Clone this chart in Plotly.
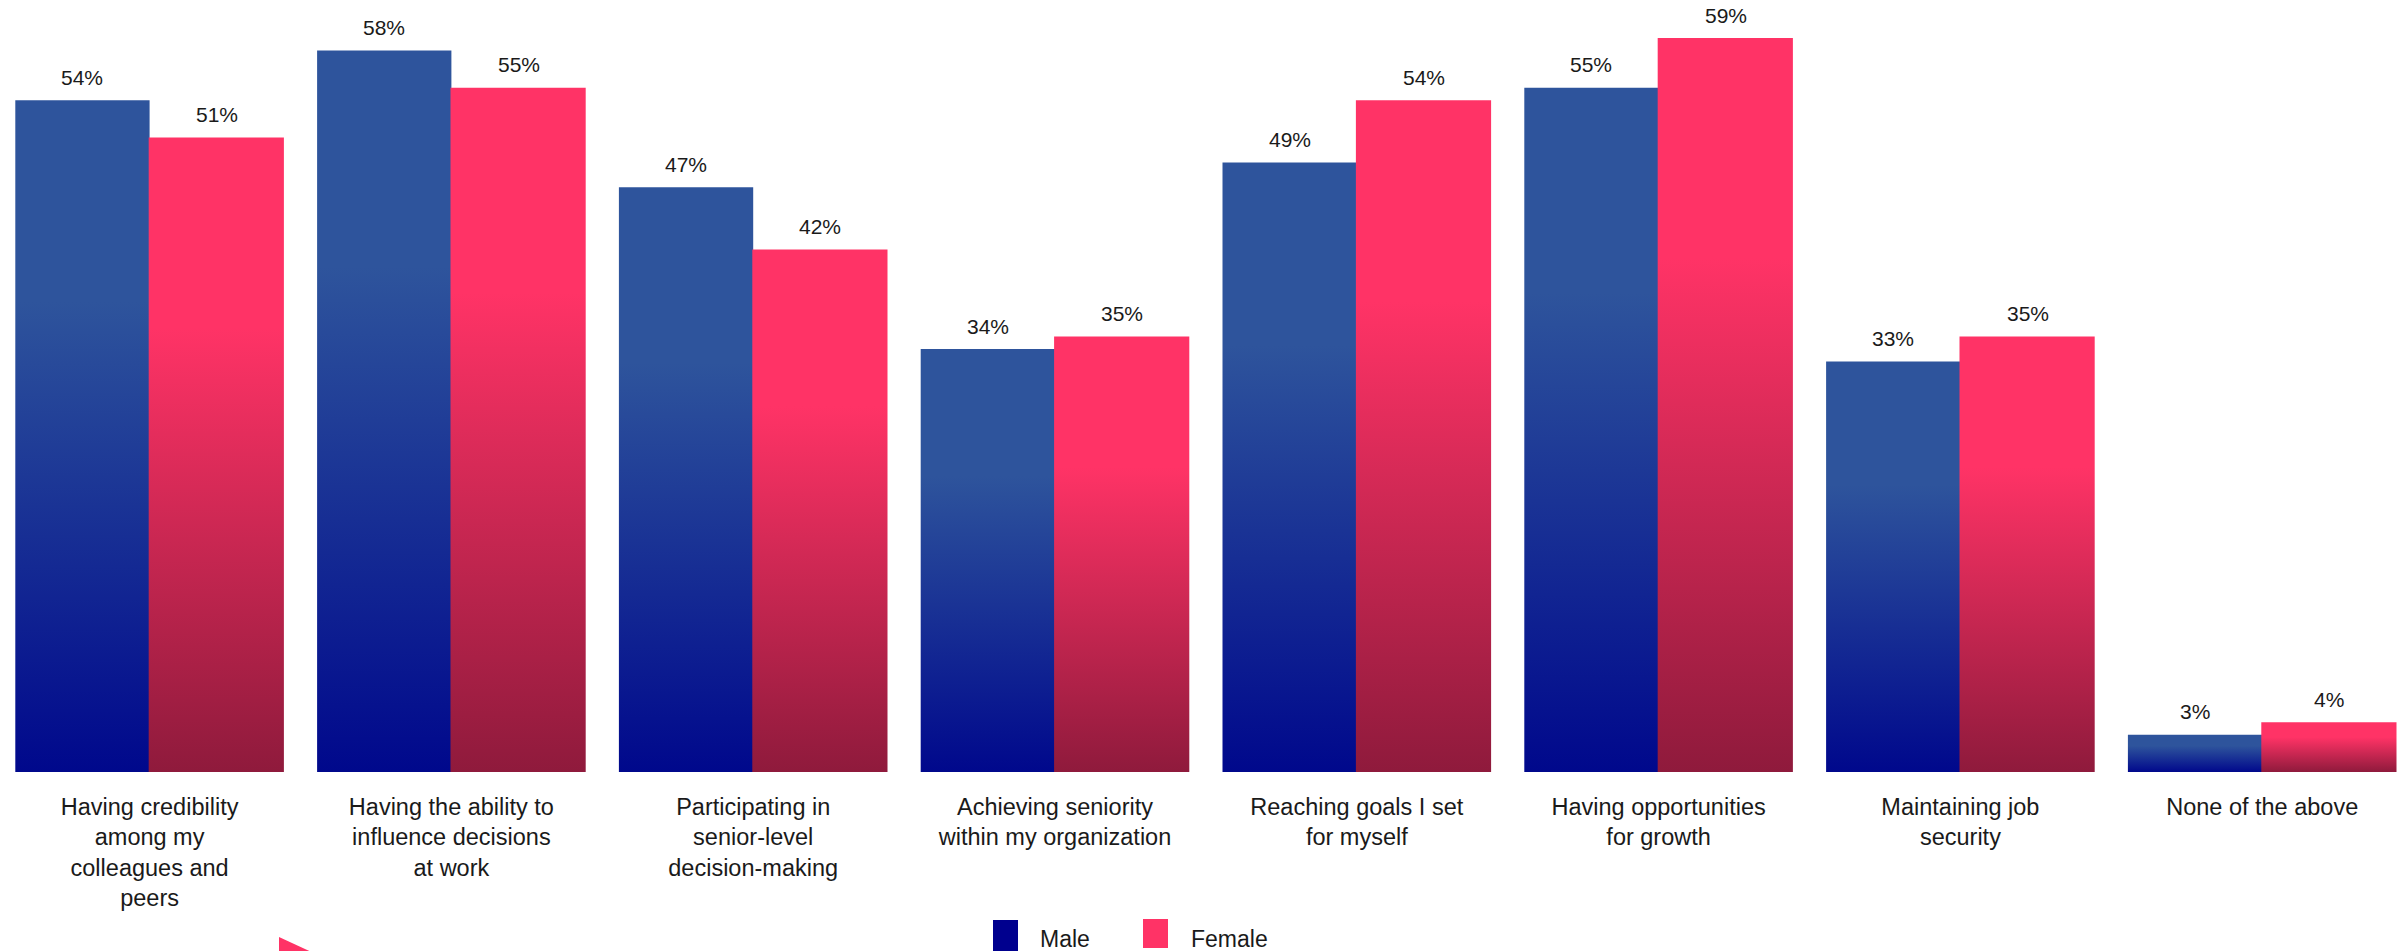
import plotly.graph_objects as go

# ---------------- data ----------------
categories = [
    "Having credibility<br>among my<br>colleagues and<br>peers",
    "Having the ability to<br>influence decisions<br>at work",
    "Participating in<br>senior-level<br>decision-making",
    "Achieving seniority<br>within my organization",
    "Reaching goals I set<br>for myself",
    "Having opportunities<br>for growth",
    "Maintaining job<br>security",
    "None of the above",
]
male = [54, 58, 47, 34, 49, 55, 33, 3]
female = [51, 55, 42, 35, 54, 59, 35, 4]
series_names = ["Male", "Female"]

# ---------------- styles ----------------
W, H = 2407, 951
OFF = 8  # page body margin: screen px = figure px + OFF
FONT = "Liberation Sans, Arial, sans-serif"
TXT = "#1a1a1a"
male_scale = [[0.0, "rgb(0,8,140)"], [0.70, "rgb(46,84,156)"], [1.0, "rgb(46,84,156)"]]
female_scale = [[0.0, "rgb(143,26,60)"], [0.70, "rgb(255,51,102)"], [1.0, "rgb(255,51,102)"]]
legend_colors = ["#00008E", "#FF3366"]
bar_w = 0.445
seam = 0.003  # tiny overlap so adjacent bars show no anti-alias seam
group_px = 301.8
first_center_px = 149.6 - OFF
bottom_px = 772 - OFF
top_px = 2
px_per_unit = 12.44

fig = go.Figure()
annotations = []

for sname, vals, cs, side in [(series_names[0], male, male_scale, -1),
                               (series_names[1], female, female_scale, 1)]:
    for i, v in enumerate(vals):
        if side < 0:
            x0, x1 = i - bar_w, i
            lx0 = x0
        else:
            x0, x1 = i, i + bar_w
            lx0 = x0 - seam
        fig.add_trace(go.Scatter(
            x=[lx0, lx0, x1, x1, lx0], y=[0, v, v, 0, 0],
            mode="lines", fill="toself",
            line=dict(width=0, color="rgba(0,0,0,0)"),
            fillgradient=dict(type="vertical", colorscale=cs),
            name=sname, showlegend=False, hoverinfo="skip",
        ))
        annotations.append(dict(
            x=(x0 + x1) / 2, y=v, xref="x", yref="y", text=f"{v}%",
            showarrow=False, yanchor="middle", xanchor="center", yshift=23,
            font=dict(family=FONT, size=21, color=TXT),
        ))

# manual legend (screen pixel positions converted to paper coordinates)
def px(x):
    return (x - OFF) / W

def py(y):
    return 1 - (y - OFF) / H

shapes = []
leg_items = [(993, 920, 1018, 951, 1038), (1143, 919, 1168, 948, 1189)]
for (x0, y0, x1, y1, tx), name, col in zip(leg_items, series_names, legend_colors):
    shapes.append(dict(type="rect", xref="paper", yref="paper",
                       x0=px(x0), x1=px(x1), y0=py(y1), y1=py(y0),
                       fillcolor=col, line=dict(width=0)))
    annotations.append(dict(x=px(tx), y=py(939), xref="paper", yref="paper",
                            text=name, showarrow=False, xanchor="left", yanchor="middle",
                            font=dict(family=FONT, size=23, color=TXT)))

# small pink decorative wedge at bottom-left
shapes.append(dict(type="path", xref="paper", yref="paper",
                   path=f"M {px(279)} {py(937)} L {px(279)} {py(955)} L {px(318)} {py(955)} Z",
                   fillcolor="#FF3366", line=dict(width=0)))

fig.update_layout(
    width=W, height=H, autosize=False,
    margin=dict(l=0, r=0, t=0, b=0, pad=0),
    paper_bgcolor="white", plot_bgcolor="white",
    showlegend=False,
    xaxis=dict(
        range=[-first_center_px / group_px, (W - first_center_px) / group_px],
        tickmode="array", tickvals=list(range(len(categories))), ticktext=categories,
        showgrid=False, zeroline=False, showline=False, ticks="",
        tickfont=dict(family=FONT, size=23.5, color=TXT),
        ticklabelstandoff=18, automargin=False, fixedrange=True,
    ),
    yaxis=dict(
        range=[0, (bottom_px - top_px) / px_per_unit],
        domain=[1 - bottom_px / H, 1 - top_px / H],
        visible=False, showgrid=False, zeroline=False, automargin=False, fixedrange=True,
    ),
    annotations=annotations,
    shapes=shapes,
)

fig.write_html("out.html")
